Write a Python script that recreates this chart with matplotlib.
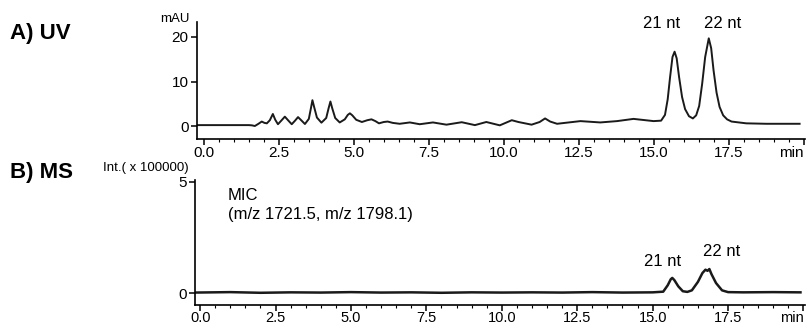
import matplotlib
matplotlib.use("Agg")
import matplotlib.pyplot as plt
from matplotlib.ticker import MultipleLocator

plt.rcParams['font.family'] = ['Liberation Sans', 'DejaVu Sans']

# UV trace (time in min, absorbance in mAU)
uv_time = [-0.23, 1.5, 1.6, 1.7, 1.82, 1.93, 2.02, 2.1, 2.2, 2.3, 2.38, 2.47,
           2.58, 2.7, 2.82, 2.93, 3.04, 3.14, 3.26, 3.37, 3.5, 3.57, 3.62,
           3.68, 3.77, 3.92, 4.08, 4.16, 4.22, 4.28, 4.38, 4.53, 4.7, 4.8,
           4.87, 4.95, 5.08, 5.27, 5.45, 5.59, 5.72, 5.84, 6.0, 6.13, 6.3,
           6.53, 6.87, 7.2, 7.64, 8.09, 8.6, 9.04, 9.42, 9.87, 10.27, 10.49,
           10.93, 11.2, 11.38, 11.55, 11.78, 12.56, 13.22, 13.78, 14.33, 15.0,
           15.25, 15.38, 15.47, 15.55, 15.63, 15.7, 15.77, 15.85, 15.95, 16.05,
           16.18, 16.31, 16.42, 16.52, 16.62, 16.72, 16.84, 16.92, 17.0, 17.1,
           17.2, 17.32, 17.45, 17.6, 18.09, 18.76, 19.87]
uv_mau = [0.2, 0.2, 0.15, 0.0, 0.5, 1.0, 0.7, 0.6, 1.3, 2.7, 1.4, 0.4,
          1.2, 2.1, 1.2, 0.4, 1.2, 2.0, 1.2, 0.45, 1.6, 4.0, 5.8,
          4.2, 1.9, 0.75, 1.8, 4.0, 5.5, 4.0, 1.8, 0.8, 1.5, 2.5,
          2.85, 2.4, 1.4, 0.9, 1.3, 1.5, 1.1, 0.6, 0.9, 1.0, 0.7,
          0.5, 0.8, 0.4, 0.8, 0.3, 0.85, 0.2, 0.9, 0.15, 1.3, 0.9,
          0.3, 0.9, 1.7, 1.0, 0.5, 1.1, 0.8, 1.1, 1.6, 1.1,
          1.2, 2.5, 6.0, 11.0, 15.5, 16.7, 15.2, 11.0, 6.5, 3.8,
          2.2, 1.7, 2.4, 4.5, 9.5, 15.5, 19.7, 17.5, 12.5, 7.5,
          4.3, 2.4, 1.5, 1.0, 0.6, 0.5, 0.5]

# MS trace (MIC), intensity in units of 100000
ms_time = [-0.17, 1.0, 2.0, 3.0, 4.0, 5.0, 6.0, 7.0, 8.0, 9.0, 10.0, 11.0,
           12.0, 13.0, 14.0, 15.0, 15.35, 15.5, 15.6, 15.65, 15.72, 15.85,
           16.0, 16.15, 16.3, 16.5, 16.65, 16.75, 16.82, 16.88, 16.95, 17.1,
           17.3, 17.5, 18.0, 19.0, 19.9]
ms_int = [0.02, 0.04, 0.01, 0.03, 0.02, 0.04, 0.02, 0.03, 0.01, 0.03, 0.02, 0.03,
          0.02, 0.04, 0.02, 0.03, 0.06, 0.35, 0.62, 0.68, 0.58, 0.3,
          0.08, 0.05, 0.12, 0.5, 0.9, 1.05, 1.0, 1.08, 0.85, 0.45,
          0.12, 0.04, 0.03, 0.04, 0.03]

x_ticks = [0, 2.5, 5, 7.5, 10, 12.5, 15, 17.5, 20]
x_labels = ['0.0', '2.5', '5.0', '7.5', '10.0', '12.5', '15.0', '17.5', 'min']

W, H = 812, 325
fig = plt.figure(figsize=(W / 100, H / 100), dpi=100)


def style(ax, yticks):
    for s in ['top', 'right']:
        ax.spines[s].set_visible(False)
    for s in ['left', 'bottom']:
        ax.spines[s].set_linewidth(1.2)
    ax.set_xticks(x_ticks)
    ax.set_xticklabels(x_labels)
    ax.get_xticklabels()[-1].set_horizontalalignment('right')
    ax.xaxis.set_minor_locator(MultipleLocator(0.5))
    ax.set_yticks(yticks)
    ax.tick_params(axis='both', which='major', direction='out', length=4,
                   width=1.1, labelsize=11, pad=2)
    ax.tick_params(axis='x', which='major', pad=1)
    ax.tick_params(axis='x', which='minor', direction='out', length=2, width=0.8)
    ax.patch.set_alpha(0)


# A) UV
ax1 = fig.add_axes([197 / W, 1 - 139 / H, 608 / W, 117 / H])
ax1.plot(uv_time, uv_mau, color='#1a1a1a', lw=1.4, solid_joinstyle='round')
ax1.set_xlim(-0.23, 20.05)
ax1.set_ylim(-2.92, 23.37)
style(ax1, [0, 10, 20])

# B) MS
ax2 = fig.add_axes([195 / W, 1 - 305 / H, 610 / W, 125 / H])
ax2.plot(ms_time, ms_int, color='#1a1a1a', lw=1.8, solid_joinstyle='round')
ax2.set_xlim(-0.17, 20.05)
ax2.set_ylim(-0.54, 5.09)
style(ax2, [0, 5])
ax2.tick_params(axis='x', which='major', labelsize=10.5, pad=0.5)


def ftext(x, y, s, **kw):
    fig.text(x / W, 1 - y / H, s, **kw)


ftext(10, 33, 'A) UV', fontsize=16, fontweight='bold', va='center', ha='left')
ftext(10, 173, 'B) MS', fontsize=16, fontweight='bold', va='center', ha='left')
ftext(175, 19, 'mAU', fontsize=9.5, ha='center', va='center')
ftext(146, 168, 'Int.( x 100000)', fontsize=9.5, ha='center', va='center')
ftext(662, 24, '21 nt', fontsize=12, ha='center', va='center')
ftext(723, 24, '22 nt', fontsize=12, ha='center', va='center')
ftext(663, 262, '21 nt', fontsize=12, ha='center', va='center')
ftext(722, 252, '22 nt', fontsize=12, ha='center', va='center')
ftext(228, 196, 'MIC', fontsize=12, ha='left', va='center')
ftext(228, 215, '(m/z 1721.5, m/z 1798.1)', fontsize=12, ha='left', va='center')

fig.savefig('out.png', dpi=100)
